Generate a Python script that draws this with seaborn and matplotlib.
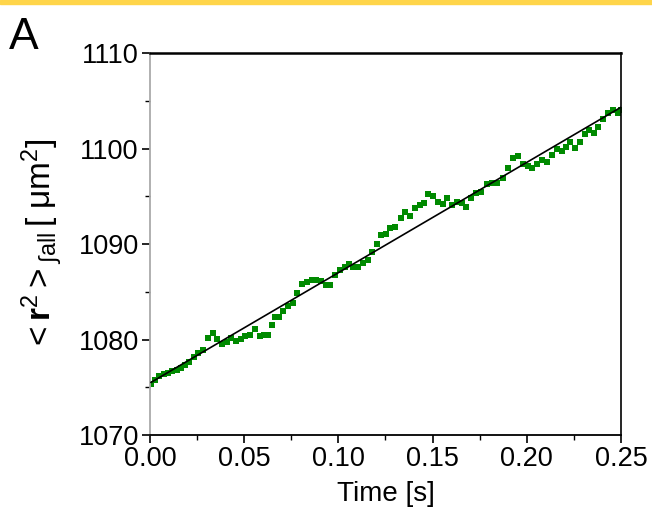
import numpy as np
import pandas as pd
import seaborn as sns
import matplotlib.pyplot as plt
from matplotlib.patches import Rectangle

# time [s] and mean square displacement [um^2]
time_s = [0.0005, 0.0027, 0.0048, 0.0074, 0.0096, 0.0117, 0.0143, 0.0165, 0.0186, 0.0207,
          0.0234, 0.0255, 0.0281, 0.0308, 0.0334, 0.0356, 0.0382, 0.0409, 0.0430, 0.0456,
          0.0483, 0.0504, 0.0531, 0.0557, 0.0584, 0.0605, 0.0626, 0.0648, 0.0664, 0.0685,
          0.0706, 0.0733, 0.0759, 0.0780, 0.0807, 0.0833, 0.0860, 0.0881, 0.0908, 0.0934,
          0.0955, 0.0982, 0.1009, 0.1035, 0.1056, 0.1078, 0.1104, 0.1131, 0.1157, 0.1178,
          0.1205, 0.1226, 0.1253, 0.1274, 0.1300, 0.1332, 0.1354, 0.1380, 0.1407, 0.1433,
          0.1454, 0.1476, 0.1502, 0.1529, 0.1555, 0.1576, 0.1603, 0.1630, 0.1656, 0.1677,
          0.1704, 0.1730, 0.1757, 0.1789, 0.1815, 0.1842, 0.1874, 0.1900, 0.1927, 0.1953,
          0.1980, 0.2006, 0.2028, 0.2054, 0.2081, 0.2107, 0.2134, 0.2160, 0.2187, 0.2208,
          0.2229, 0.2256, 0.2282, 0.2309, 0.2330, 0.2357, 0.2378, 0.2405, 0.2431, 0.2458,
          0.2484, 0.2500]
msd = [1075.34, 1075.76, 1076.18, 1076.39, 1076.49, 1076.70, 1076.81, 1077.01, 1077.33, 1077.64,
       1078.17, 1078.59, 1078.90, 1080.16, 1080.68, 1080.05, 1079.53, 1079.74, 1080.16, 1079.84,
       1080.05, 1080.37, 1080.47, 1081.10, 1080.37, 1080.47, 1080.47, 1081.52, 1082.35, 1082.35,
       1082.98, 1083.51, 1083.82, 1084.87, 1085.81, 1086.02, 1086.23, 1086.23, 1086.12, 1085.71,
       1085.71, 1086.75, 1087.28, 1087.59, 1087.90, 1087.59, 1087.59, 1088.01, 1088.32, 1089.16,
       1090.00, 1090.94, 1091.04, 1091.67, 1091.78, 1092.72, 1093.35, 1092.93, 1093.77, 1094.08,
       1094.29, 1095.23, 1095.02, 1094.40, 1094.19, 1094.81, 1094.08, 1094.40, 1094.29, 1093.87,
       1094.81, 1095.34, 1095.44, 1096.28, 1096.38, 1096.38, 1096.91, 1097.95, 1099.00, 1099.21,
       1098.37, 1098.16, 1097.95, 1098.37, 1098.79, 1098.58, 1099.32, 1099.94, 1099.73, 1100.15,
       1100.68, 1100.05, 1100.68, 1101.51, 1101.93, 1101.62, 1102.25, 1103.09, 1103.71, 1104.03,
       1103.71, 1104.03]

x_ticks = [0.00, 0.05, 0.10, 0.15, 0.20, 0.25]
y_ticks = [1070, 1080, 1090, 1100, 1110]

df = pd.DataFrame({'time': time_s, 'msd': msd})

sns.set_style('ticks')
plt.rcParams['font.family'] = ['Liberation Sans', 'DejaVu Sans']
plt.rcParams['mathtext.fontset'] = 'custom'
plt.rcParams['mathtext.rm'] = 'Liberation Sans'
plt.rcParams['mathtext.bf'] = 'Liberation Sans:bold'
plt.rcParams['mathtext.it'] = 'Liberation Sans:italic'
plt.rcParams['text.color'] = 'black'
plt.rcParams['axes.labelcolor'] = 'black'
plt.rcParams['xtick.color'] = 'black'
plt.rcParams['ytick.color'] = 'black'

fig = plt.figure(figsize=(6.52, 5.15), dpi=100)
ax = fig.add_axes([0.230, 0.155, 0.7225, 0.742])

# yellow strip at top of the panel
fig.patches.append(Rectangle((0, 0.992), 1, 0.008, transform=fig.transFigure,
                             color='#FFD54A', zorder=0))

sns.regplot(data=df, x='time', y='msd', ax=ax, ci=None, marker='s',
            scatter_kws={'s': 13, 'color': '#008a00', 'alpha': 1, 'linewidths': 0,
                         'zorder': 2},
            line_kws={'color': 'black', 'lw': 1.2, 'zorder': 3})

ax.set_xlim(0, 0.25)
ax.set_ylim(1070, 1110)
ax.set_xticks(x_ticks)
ax.set_xticklabels(['%.2f' % v for v in x_ticks])
ax.set_yticks(y_ticks)
ax.set_xticks(np.arange(0.025, 0.25, 0.05), minor=True)
ax.set_yticks(np.arange(1075, 1110, 10), minor=True)
ax.tick_params(which='major', direction='out', length=6, width=1.2, labelsize=19.5, pad=2)
ax.tick_params(which='minor', direction='out', length=3.5, width=1)

for side in ['top', 'bottom', 'right']:
    ax.spines[side].set_visible(True)
    ax.spines[side].set_color('black')
ax.spines['top'].set_linewidth(1.8)
ax.spines['bottom'].set_linewidth(1.3)
ax.spines['right'].set_linewidth(1.2)
ax.spines['left'].set_color('#aaaaaa')
ax.spines['left'].set_linewidth(1.3)

ax.set_xlabel('Time [s]', fontsize=20, labelpad=6)
ax.set_ylabel(r'$<\mathbf{r}^{2}>_{\int \mathrm{all}}\,[\ \mathrm{\mu m}^{2}]$',
              fontsize=24, labelpad=10)

fig.text(0.013, 0.905, 'A', fontsize=32)

fig.savefig('out.png', dpi=100)
